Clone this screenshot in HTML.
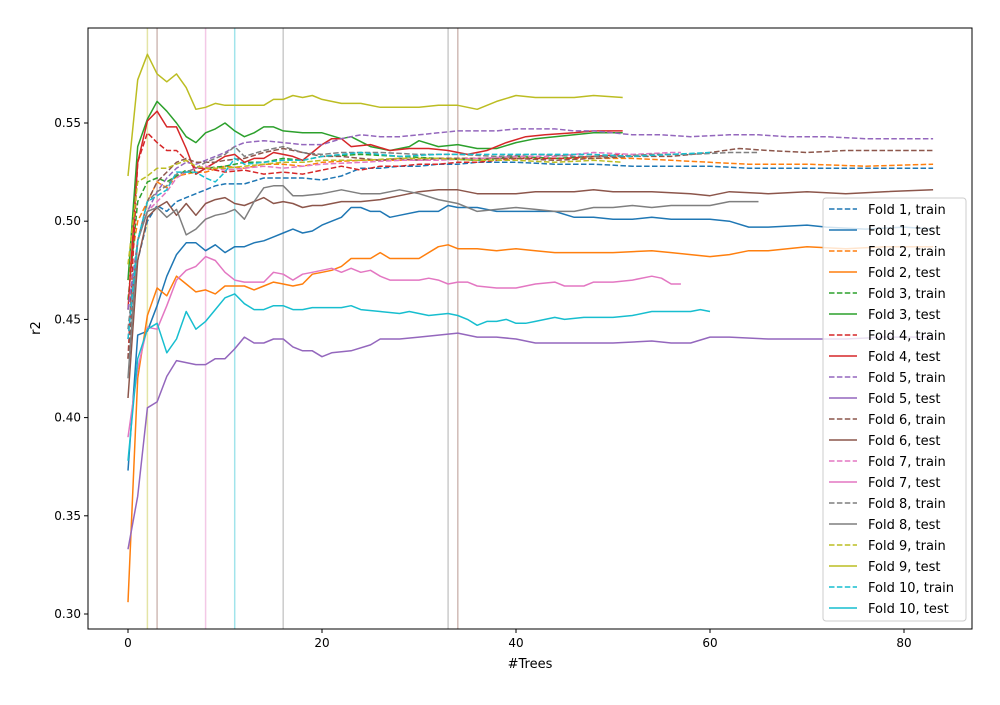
<!DOCTYPE html>
<html><head><meta charset="utf-8"><style>
body{margin:0;background:#fff;font-family:"Liberation Sans","DejaVu Sans",sans-serif}
svg text{font-family:"DejaVu Sans","Liberation Sans",sans-serif}
</style></head><body>
<svg id="chart" width="1000" height="700"></svg>
<script>
const xTicks=[0,20,40,60,80];
const yTicks=[0.30,0.35,0.40,0.45,0.50,0.55];
const vlineTrees=[2,3,8,11,16,33,34];
const vlineColors=["#bcbd22","#8c564b","#e377c2","#17becf","#7f7f7f","#7f7f7f","#8c564b"];
const foldColors=["#1f77b4","#ff7f0e","#2ca02c","#d62728","#9467bd","#8c564b","#e377c2","#7f7f7f","#bcbd22","#17becf"];

const f1TrainX=[0,1,2,3,4,5,6,7,8,9,10,12,14,16,18,20,22,24,26,28,30,32,34,36,40,44,48,52,56,60,64,68,72,76,80,83];
const f1TrainY=[0.455,0.48,0.5,0.508,0.505,0.51,0.512,0.514,0.516,0.518,0.519,0.519,0.522,0.522,0.522,0.521,0.523,0.527,0.527,0.528,0.528,0.529,0.529,0.53,0.53,0.529,0.529,0.528,0.528,0.528,0.527,0.527,0.527,0.527,0.527,0.527];
const f1TestX=[0,1,2,3,4,5,6,7,8,9,10,11,12,13,14,15,16,17,18,19,20,21,22,23,24,25,26,27,28,30,32,33,34,36,38,40,42,44,46,48,50,52,54,56,58,60,62,64,66,70,72,76,80,83];
const f1TestY=[0.373,0.442,0.444,0.457,0.472,0.483,0.489,0.489,0.485,0.488,0.484,0.487,0.487,0.489,0.49,0.492,0.494,0.496,0.494,0.495,0.498,0.5,0.502,0.507,0.507,0.505,0.505,0.502,0.503,0.505,0.505,0.508,0.507,0.507,0.505,0.505,0.505,0.505,0.502,0.502,0.501,0.501,0.502,0.501,0.501,0.501,0.5,0.497,0.497,0.498,0.497,0.496,0.497,0.496];
const f2TrainX=[0,1,2,3,4,5,6,7,8,10,12,14,16,18,20,24,28,32,36,40,44,48,52,56,60,64,70,76,83];
const f2TrainY=[0.47,0.5,0.51,0.52,0.517,0.523,0.524,0.525,0.525,0.528,0.527,0.529,0.529,0.528,0.53,0.531,0.531,0.532,0.532,0.532,0.532,0.532,0.532,0.531,0.53,0.529,0.529,0.528,0.529];
const f2TestX=[0,1,2,3,4,5,6,7,8,9,10,11,12,13,14,15,16,17,18,19,20,21,22,23,24,25,26,27,28,30,32,33,34,36,38,40,42,44,46,48,50,54,56,58,60,62,64,66,68,70,74,78,83];
const f2TestY=[0.306,0.42,0.452,0.466,0.462,0.472,0.468,0.464,0.465,0.463,0.467,0.467,0.467,0.465,0.467,0.469,0.468,0.467,0.468,0.473,0.474,0.475,0.477,0.481,0.481,0.481,0.484,0.481,0.481,0.481,0.487,0.488,0.486,0.486,0.485,0.486,0.485,0.484,0.484,0.484,0.484,0.485,0.484,0.483,0.482,0.483,0.485,0.485,0.486,0.487,0.486,0.487,0.487];
const f3TrainX=[0,1,2,3,4,5,6,7,8,10,12,14,16,18,20,24,28,32,36,40,44,48,51];
const f3TrainY=[0.46,0.51,0.52,0.522,0.52,0.523,0.526,0.524,0.527,0.528,0.53,0.53,0.532,0.531,0.533,0.534,0.533,0.532,0.531,0.533,0.532,0.533,0.533];
const f3TestX=[0,1,2,3,4,5,6,7,8,9,10,11,12,13,14,15,16,18,20,22,23,25,27,29,30,32,34,36,38,40,42,44,46,48,51];
const f3TestY=[0.47,0.538,0.552,0.561,0.556,0.55,0.543,0.54,0.545,0.547,0.55,0.546,0.543,0.545,0.548,0.548,0.546,0.545,0.545,0.542,0.543,0.538,0.536,0.538,0.541,0.538,0.539,0.537,0.537,0.54,0.542,0.543,0.544,0.545,0.545];
const f4TrainX=[0,1,2,3,4,5,6,7,8,9,10,12,14,16,18,20,22,24,26,28,30,32,34,36,38,40,42,45,48,51];
const f4TrainY=[0.43,0.53,0.545,0.54,0.536,0.536,0.531,0.527,0.527,0.526,0.525,0.526,0.524,0.525,0.524,0.526,0.528,0.526,0.528,0.528,0.529,0.529,0.53,0.53,0.531,0.532,0.532,0.532,0.533,0.534];
const f4TestX=[0,1,2,3,4,5,6,7,8,9,10,11,12,13,14,15,16,17,18,19,20,21,22,23,25,27,29,31,33,35,37,39,41,43,46,48,51];
const f4TestY=[0.455,0.53,0.551,0.556,0.548,0.548,0.537,0.524,0.527,0.53,0.533,0.534,0.53,0.532,0.532,0.535,0.534,0.533,0.531,0.535,0.539,0.542,0.542,0.538,0.539,0.536,0.537,0.537,0.536,0.534,0.536,0.54,0.543,0.544,0.545,0.546,0.546];
const f5TrainX=[0,1,2,3,4,5,6,7,8,9,10,11,12,14,16,18,20,22,24,26,28,30,32,34,36,38,40,42,44,46,48,50,52,55,58,62,65,68,72,76,80,83];
const f5TrainY=[0.455,0.49,0.505,0.515,0.522,0.527,0.53,0.529,0.531,0.533,0.535,0.538,0.54,0.541,0.54,0.539,0.539,0.542,0.544,0.543,0.543,0.544,0.545,0.546,0.546,0.546,0.547,0.547,0.547,0.546,0.546,0.545,0.544,0.544,0.543,0.544,0.544,0.543,0.543,0.542,0.542,0.542];
const f5TestX=[0,1,2,3,4,5,6,7,8,9,10,11,12,13,14,15,16,17,18,19,20,21,23,25,26,28,30,32,34,36,38,40,42,44,46,50,54,56,58,60,62,66,70,74,78,83];
const f5TestY=[0.333,0.36,0.405,0.408,0.421,0.429,0.428,0.427,0.427,0.43,0.43,0.435,0.441,0.438,0.438,0.44,0.44,0.436,0.434,0.434,0.431,0.433,0.434,0.437,0.44,0.44,0.441,0.442,0.443,0.441,0.441,0.44,0.438,0.438,0.438,0.438,0.439,0.438,0.438,0.441,0.441,0.44,0.44,0.44,0.441,0.441];
const f6TrainX=[0,1,2,3,4,5,6,7,8,9,10,12,14,16,18,20,22,24,26,28,30,32,34,36,40,44,48,52,56,60,63,66,70,74,78,83];
const f6TrainY=[0.43,0.49,0.51,0.52,0.525,0.53,0.532,0.53,0.53,0.53,0.531,0.532,0.535,0.537,0.535,0.533,0.533,0.532,0.531,0.532,0.531,0.532,0.532,0.532,0.532,0.531,0.532,0.533,0.533,0.535,0.537,0.536,0.535,0.536,0.536,0.536];
const f6TestX=[0,1,2,3,4,5,6,7,8,9,10,11,12,13,14,15,16,17,18,19,20,22,24,26,28,30,32,34,36,38,40,42,46,48,50,54,58,60,62,66,70,74,78,83];
const f6TestY=[0.41,0.48,0.502,0.507,0.51,0.503,0.509,0.503,0.509,0.511,0.512,0.509,0.508,0.51,0.512,0.509,0.51,0.509,0.507,0.508,0.508,0.51,0.51,0.511,0.513,0.515,0.516,0.516,0.514,0.514,0.514,0.515,0.515,0.516,0.515,0.515,0.514,0.513,0.515,0.514,0.515,0.514,0.515,0.516];
const f7TrainX=[0,1,2,3,4,5,6,7,8,10,12,14,16,18,20,24,28,32,36,40,44,48,52,56,57];
const f7TrainY=[0.44,0.49,0.505,0.51,0.515,0.522,0.525,0.527,0.528,0.526,0.527,0.528,0.527,0.528,0.529,0.53,0.531,0.531,0.532,0.533,0.533,0.535,0.534,0.535,0.535];
const f7TestX=[0,1,2,3,4,5,6,7,8,9,10,11,12,13,14,15,16,17,18,19,20,21,22,23,24,25,26,27,28,30,31,32,33,34,35,36,38,40,42,44,45,47,48,50,52,54,55,56,57];
const f7TestY=[0.39,0.425,0.446,0.445,0.457,0.47,0.475,0.477,0.482,0.48,0.474,0.47,0.469,0.469,0.469,0.474,0.473,0.47,0.473,0.474,0.475,0.476,0.474,0.476,0.474,0.475,0.472,0.47,0.47,0.47,0.471,0.47,0.468,0.469,0.469,0.467,0.466,0.466,0.468,0.469,0.467,0.467,0.469,0.469,0.47,0.472,0.471,0.468,0.468];
const f8TrainX=[0,1,2,3,4,5,6,7,8,9,10,11,12,14,16,18,20,22,24,26,30,34,38,42,46,50,54,58,62,65];
const f8TrainY=[0.445,0.49,0.51,0.515,0.518,0.524,0.525,0.527,0.53,0.532,0.534,0.538,0.533,0.536,0.538,0.535,0.534,0.535,0.535,0.535,0.534,0.534,0.533,0.534,0.533,0.533,0.534,0.534,0.535,0.535];
const f8TestX=[0,1,2,3,4,5,6,7,8,9,10,11,12,13,14,15,16,17,18,20,22,24,26,28,30,32,34,36,38,40,42,44,46,48,50,52,54,56,58,60,62,65];
const f8TestY=[0.42,0.49,0.505,0.507,0.502,0.506,0.493,0.496,0.501,0.503,0.504,0.506,0.501,0.51,0.517,0.518,0.518,0.513,0.513,0.514,0.516,0.514,0.514,0.516,0.514,0.511,0.509,0.505,0.506,0.507,0.506,0.505,0.505,0.507,0.507,0.508,0.507,0.508,0.508,0.508,0.51,0.51];
const f9TrainX=[0,1,2,3,4,5,6,7,8,10,12,14,16,18,20,24,28,32,36,40,44,48,51];
const f9TrainY=[0.478,0.52,0.523,0.527,0.527,0.529,0.531,0.528,0.527,0.527,0.528,0.529,0.53,0.53,0.531,0.531,0.532,0.532,0.531,0.531,0.53,0.531,0.53];
const f9TestX=[0,1,2,3,4,5,6,7,8,9,10,12,14,15,16,17,18,19,20,22,24,26,28,30,32,34,36,38,40,42,44,46,48,51];
const f9TestY=[0.523,0.572,0.585,0.575,0.571,0.575,0.568,0.557,0.558,0.56,0.559,0.559,0.559,0.562,0.562,0.564,0.563,0.564,0.562,0.56,0.56,0.558,0.558,0.558,0.559,0.559,0.557,0.561,0.564,0.563,0.563,0.563,0.564,0.563];
const f10TrainX=[0,1,2,3,4,5,6,7,8,9,10,11,12,14,16,18,20,24,28,32,36,40,44,48,52,56,60];
const f10TrainY=[0.44,0.49,0.51,0.513,0.516,0.525,0.525,0.525,0.522,0.52,0.525,0.532,0.529,0.53,0.531,0.531,0.533,0.535,0.533,0.534,0.534,0.534,0.534,0.534,0.533,0.534,0.535];
const f10TestX=[0,1,2,3,4,5,6,7,8,9,10,11,12,13,14,15,16,17,18,19,20,22,23,24,26,28,29,31,33,34,35,36,37,38,39,40,41,42,44,45,47,50,52,54,56,58,59,60];
const f10TestY=[0.378,0.43,0.445,0.448,0.433,0.44,0.454,0.445,0.449,0.455,0.461,0.463,0.458,0.455,0.455,0.457,0.457,0.455,0.455,0.456,0.456,0.456,0.457,0.455,0.454,0.453,0.454,0.452,0.453,0.452,0.45,0.447,0.449,0.449,0.45,0.448,0.448,0.449,0.451,0.45,0.451,0.451,0.452,0.454,0.454,0.454,0.455,0.454];

const series=[
 [f1TrainX,f1TrainY],[f1TestX,f1TestY],[f2TrainX,f2TrainY],[f2TestX,f2TestY],
 [f3TrainX,f3TrainY],[f3TestX,f3TestY],[f4TrainX,f4TrainY],[f4TestX,f4TestY],
 [f5TrainX,f5TrainY],[f5TestX,f5TestY],[f6TrainX,f6TrainY],[f6TestX,f6TestY],
 [f7TrainX,f7TrainY],[f7TestX,f7TestY],[f8TrainX,f8TrainY],[f8TestX,f8TestY],
 [f9TrainX,f9TrainY],[f9TestX,f9TestY],[f10TrainX,f10TrainY],[f10TestX,f10TestY]];

const L=88,R=972,T=28,B=629;
const xs=v=>128+v*9.7;
const ys=v=>614-(v-0.30)*1964;
const NS="http://www.w3.org/2000/svg";
const svg=document.getElementById('chart');
function mk(t,a,p){const e=document.createElementNS(NS,t);for(const k in a)e.setAttribute(k,a[k]);(p||svg).appendChild(e);return e;}

vlineTrees.forEach((t,i)=>{
 const l=mk('line',{x1:xs(t),x2:xs(t),y1:T,y2:B,stroke:vlineColors[i],'stroke-width':1.5,opacity:0.4});
 
 
});

series.forEach((s,i)=>{
 const fold=Math.floor(i/2)+1, train=i%2===0;
 const d=s[0].map((x,j)=>(j?'L':'M')+xs(x).toFixed(1)+','+ys(s[1][j]).toFixed(1)).join('');
 const p=mk('path',{d:d,fill:'none',stroke:foldColors[fold-1],'stroke-width':1.5,'stroke-dasharray':train?'5.5,2.4':'none','stroke-linejoin':'round'});
 
 
});

const frame=mk('rect',{x:L,y:T,width:R-L,height:B-T,fill:'none',stroke:'#000','stroke-width':1});



xTicks.forEach(t=>{
 mk('line',{x1:xs(t),x2:xs(t),y1:B,y2:B+4,stroke:'#000'});
 const tx=mk('text',{x:xs(t),y:B+18,'font-size':12,'text-anchor':'middle'});
 tx.textContent=t;
 
 
});
yTicks.forEach(t=>{
 mk('line',{x1:L-4,x2:L,y1:ys(t),y2:ys(t),stroke:'#000'});
 const tx=mk('text',{x:L-7,y:ys(t)+4,'font-size':12,'text-anchor':'end'});
 tx.textContent=t.toFixed(2);
 
 
});
const xt=mk('text',{x:530,y:668,'font-size':13,'text-anchor':'middle'});
xt.textContent='#Trees';


const yt=mk('text',{x:40,y:328,'font-size':13,'text-anchor':'middle',transform:'rotate(-90 40 328)'});
yt.textContent='r2';



const lg=mk('g',{});


mk('rect',{x:823,y:198,width:143,height:423,rx:3,fill:'#fff','fill-opacity':0.8,stroke:'#ccc'},lg);
series.forEach((s,i)=>{
 const fold=Math.floor(i/2)+1, train=i%2===0;
 const y=209+i*21;
 const g=mk('g',{},lg);
 
 
 mk('line',{x1:829,x2:857,y1:y,y2:y,stroke:foldColors[fold-1],'stroke-width':1.5,'stroke-dasharray':train?'5.5,2.4':'none'},g);
 const t=mk('text',{x:868,y:y+5,'font-size':13},g);
 t.textContent='Fold '+fold+', '+(train?'train':'test');
});
</script>
</body></html>
